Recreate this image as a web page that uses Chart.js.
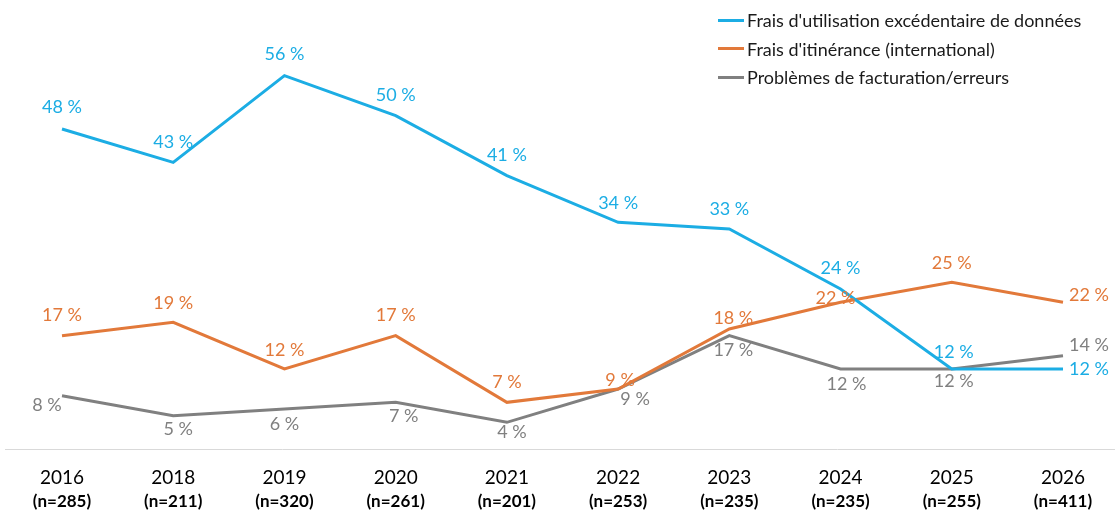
<!DOCTYPE html>
<html lang="fr">
<head>
<meta charset="UTF-8">
<title>Frais</title>
<script src="https://cdn.jsdelivr.net/npm/chart.js"></script>
<style>
    html, body { margin: 0; padding: 0; background: #fff; }
    .wrap { position: relative; width: 1115px; height: 513px; font-family: Lato, sans-serif; }
    .legend { position: absolute; left: 718px; top: 6px; font-size: 18px; color: #1a1a1a; }
    .legend div { height: 28.5px; display: flex; align-items: center; white-space: nowrap; }
    .legend span.sw { display: inline-block; width: 26px; height: 3px; margin-right: 3px; }
</style>
</head>
<body>
<div class="wrap">
    <canvas id="c" width="1115" height="513"></canvas>
    <div class="legend" id="legend"></div>
</div>
<script>
    const years = ['2016', '2018', '2019', '2020', '2021', '2022', '2023', '2024', '2025', '2026'];
    const sizes = ['(n=285)', '(n=211)', '(n=320)', '(n=261)', '(n=201)', '(n=253)', '(n=235)', '(n=235)', '(n=255)', '(n=411)'];
    const seriesNames = ["Frais d'utilisation excédentaire de données", "Frais d'itinérance (international)", 'Problèmes de facturation/erreurs'];
    const overage = [48, 43, 56, 50, 41, 34, 33, 24, 12, 12];
    const roaming = [17, 19, 12, 17, 7, 9, 18, 22, 25, 22];
    const billing = [8, 5, 6, 7, 4, 9, 17, 12, 12, 14];

    const colors = ['#1CADE4', '#E2793A', '#808080'];
    // label nudges from each point [dx, dy]; 'r' means left-aligned to the right of the point
    const nudge = [
        [[0, -22], [0, -20], [0, -21], [0, -20], [0, -20], [0, -19], [0, -20], [0, -21], [2, -17], ['r', 0]],
        [[0, -20], [0, -19], [0, -19], [0, -20], [0, -20], [2, -9], [4, -11], [-5, -4], [0, -19], ['r', -7]],
        [[-15, 10], [5, 14], [0, 15], [8, 14], [5, 10], [17, 10], [4, 15], [6, 15], [2, 12], ['r', -10]]
    ];

    const legend = document.getElementById('legend');
    seriesNames.forEach((name, i) => {
        const row = document.createElement('div');
        row.innerHTML = '<span class="sw" style="background:' + colors[i] + '"></span>' + name;
        legend.appendChild(row);
    });

    const baseline = {
        id: 'baseline',
        beforeDatasetsDraw(chart) {
            const ctx = chart.ctx;
            const y = Math.round(chart.chartArea.bottom) + 0.5;
            ctx.save();
            ctx.strokeStyle = '#D9D9D9';
            ctx.lineWidth = 1;
            ctx.beginPath();
            ctx.moveTo(5, y);
            ctx.lineTo(chart.width, y);
            ctx.stroke();
            ctx.restore();
        }
    };

    const valueLabels = {
        id: 'valueLabels',
        afterDatasetsDraw(chart) {
            const ctx = chart.ctx;
            ctx.save();
            ctx.font = '18px Lato, sans-serif';
            ctx.textBaseline = 'middle';
            chart.data.datasets.forEach((ds, di) => {
                chart.getDatasetMeta(di).data.forEach((pt, i) => {
                    const [dx, dy] = nudge[di][i];
                    let x = pt.x;
                    if (dx === 'r') {
                        ctx.textAlign = 'left';
                        x += 6;
                    } else {
                        ctx.textAlign = 'center';
                        x += dx;
                    }
                    ctx.fillStyle = colors[di];
                    ctx.fillText(ds.data[i] + ' %', x, pt.y + dy);
                });
            });
            ctx.restore();
        }
    };

    const xLabels = {
        id: 'xLabels',
        afterDraw(chart) {
            const ctx = chart.ctx;
            const xs = chart.scales.x;
            ctx.save();
            ctx.textAlign = 'center';
            ctx.textBaseline = 'middle';
            ctx.fillStyle = '#000';
            years.forEach((y, i) => {
                const x = xs.getPixelForValue(i);
                ctx.font = '19px Lato, sans-serif';
                ctx.fillText(y, x, 478);
                ctx.font = 'bold 17px Lato, sans-serif';
                ctx.fillText(sizes[i], x, 502);
            });
            ctx.restore();
        }
    };

    new Chart(document.getElementById('c'), {
        type: 'line',
        data: {
            labels: years,
            datasets: [overage, roaming, billing].map((d, i) => ({
                label: seriesNames[i],
                data: d,
                borderColor: colors[i],
                backgroundColor: colors[i],
                borderWidth: 3,
                pointRadius: 0,
                tension: 0
            }))
        },
        options: {
            responsive: false,
            animation: false,
            layout: { padding: { top: 49, bottom: 64, left: 62, right: 52 } },
            plugins: { legend: { display: false }, tooltip: { enabled: false } },
            scales: {
                x: { display: false, offset: false },
                y: { display: false, min: 0, max: 60 }
            }
        },
        plugins: [baseline, valueLabels, xLabels]
    });
</script>
</body>
</html>
